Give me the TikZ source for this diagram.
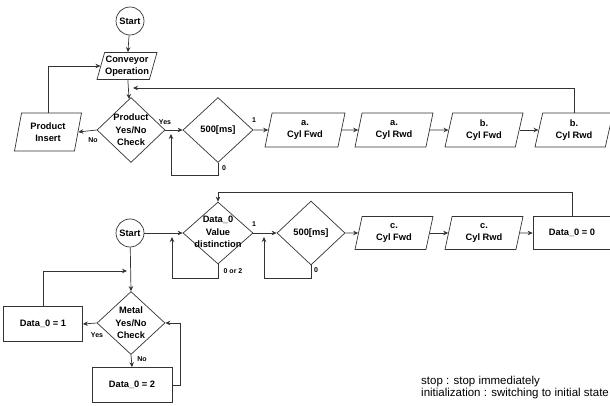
\documentclass[tikz,border=0pt]{standalone}
\usepackage{fontspec}
\setmainfont{Liberation Sans}
\usetikzlibrary{shapes.geometric,arrows.meta,calc}
\begin{document}
\begin{tikzpicture}[x=1pt,y=-1pt,
  lc/.style={draw=black!80, line width=0.7pt},
  fnt/.style={font=\bfseries\fontsize{9.3}{12.5}\selectfont, align=center},
  arr/.style={lc, -{Stealth[length=5pt,width=4.5pt]}},
  para/.style={lc, fnt, trapezium, trapezium left angle=70, trapezium right angle=110, trapezium stretches body, inner sep=0pt, minimum width=78pt, minimum height=34pt},
  dia/.style={lc, diamond, inner sep=0pt, minimum width=70pt, minimum height=64pt},
  txt/.style={fnt, inner sep=0pt},
  boxn/.style={lc, fnt, rectangle, inner sep=0pt, minimum width=79pt, minimum height=35pt},
  startn/.style={lc, fnt, circle, inner sep=0pt, minimum size=28pt},
  lab/.style={font=\bfseries\fontsize{7}{8}\selectfont, inner sep=0pt},
  note/.style={font=\fontsize{11.5}{13}\selectfont, inner sep=0pt, anchor=base west}
]
\useasboundingbox (0,0) rectangle (610,406);

% ---------- top section ----------
\node[startn] (s1) at (130,21) {Start};
\node[para, minimum width=60pt, minimum height=27pt] (conv) at (127,66) {Conveyor\\Operation};
\node[dia, minimum width=68pt, minimum height=65pt] (prod) at (131,130) {};
\node[txt] (prodt) at (prod) {Product\\Yes/No\\Check};
\node[para, minimum width=67pt, minimum height=38pt] (ins) at (48,132) {Product\\Insert};
\node[dia, minimum height=65pt] (ms1) at (218,130) {};
\node[txt] (ms1t) at (ms1) {500[ms]};
\node[para, minimum width=80pt] (aF) at (305,130) {a.\\Cyl Fwd};
\node[para] (aR) at (394,130) {a.\\Cyl Rwd};
\node[para] (bF) at (484,130) {b.\\Cyl Fwd};
\node[para] (bR) at (574,130) {b.\\Cyl Rwd};

\coordinate (l1) at (171,134);
\coordinate (f1) at (133,88);

\draw[arr] (s1) -- (conv);
\draw[arr] (conv) -- (prod);
\draw[arr] (prod.west) -- (ins.east);
\draw[arr] (ins.north) |- (conv.west);
\draw[arr] (prod.east) -- (ms1.west);
\draw[arr] (ms1.south) -- ++(0,13) -| (l1);
\draw[arr] (ms1.east) -- (aF.west);
\draw[arr] (aF.east) -- (aR.west);
\draw[arr] (aR.east) -- (bF.west);
\draw[arr] (bF.east) -- (bR.west);
\draw[arr] (bR.north) |- (f1);

\node[lab] (yes1) at (165,122) {Yes};
\node[lab] (no1) at (93,140) {No};
\node[lab] (one1) at (254,120) {1};
\node[lab] (zero1) at (224,168) {0};

% ---------- bottom section ----------
\node[startn] (s2) at (130,233) {Start};
\node[dia, minimum height=62pt] (d0) at (218,233) {};
\node[txt] (d0t) at (218,232) {Data\_0\\Value\\distinction};
\node[dia, minimum width=68pt] (ms2) at (311,233) {};
\node[txt] (ms2t) at (ms2) {500[ms]};
\node[para, minimum height=33pt] (cF) at (394,233) {c.\\Cyl Fwd};
\node[para, minimum height=33pt] (cR) at (484,233) {c.\\Cyl Rwd};
\node[boxn, minimum width=78pt, minimum height=33pt] (z0) at (572,233) {Data\_0 = 0};

\node[dia, minimum width=68pt, minimum height=63pt] (metal) at (131,323) {};
\node[txt] (metalt) at (131,323) {Metal\\Yes/No\\Check};
\node[boxn] (d1) at (43,324) {Data\_0 = 1};
\node[boxn, minimum width=80pt] (d2) at (132,385) {Data\_0 = 2};

\coordinate (l2) at (172,237);
\coordinate (l3) at (264,237);
\coordinate (m1) at (127,271);

\draw[arr] (s2) -- (d0.west);
\draw[arr] (d0.south) -- ++(0,14) -| (l2);
\draw[arr] (d0.east) -- (ms2.west);
\draw[arr] (ms2.south) -- ++(0,13) -| (l3);
\draw[arr] (ms2.east) -- (cF.west);
\draw[arr] (cF.east) -- (cR.west);
\draw[arr] (cR.east) -- (z0.west);
\draw[arr] (z0.north) -- ++(0,-24) -| (d0.north);

\draw[arr] (s2) -- (metal.north);
\draw[arr] (d1.north) |- (m1);
\draw[arr] (metal.west) -- (d1.east);
\draw[arr] (metal.south) -- (d2.north);
\draw[arr] (d2.east) -- ++(8,0) |- (metal.east);

\node[lab] (or2) at (233,271) {0 or 2};
\node[lab] (one2) at (254,224) {1};
\node[lab] (zero2) at (316,270) {0};
\node[lab] (yes2) at (97,335) {Yes};
\node[lab] (no2) at (142,359) {No};

\node[note] (n1) at (421,384) {stop : stop immediately};
\node[note] (n2) at (421,396) {initialization : switching to initial state};
\end{tikzpicture}
\end{document}
